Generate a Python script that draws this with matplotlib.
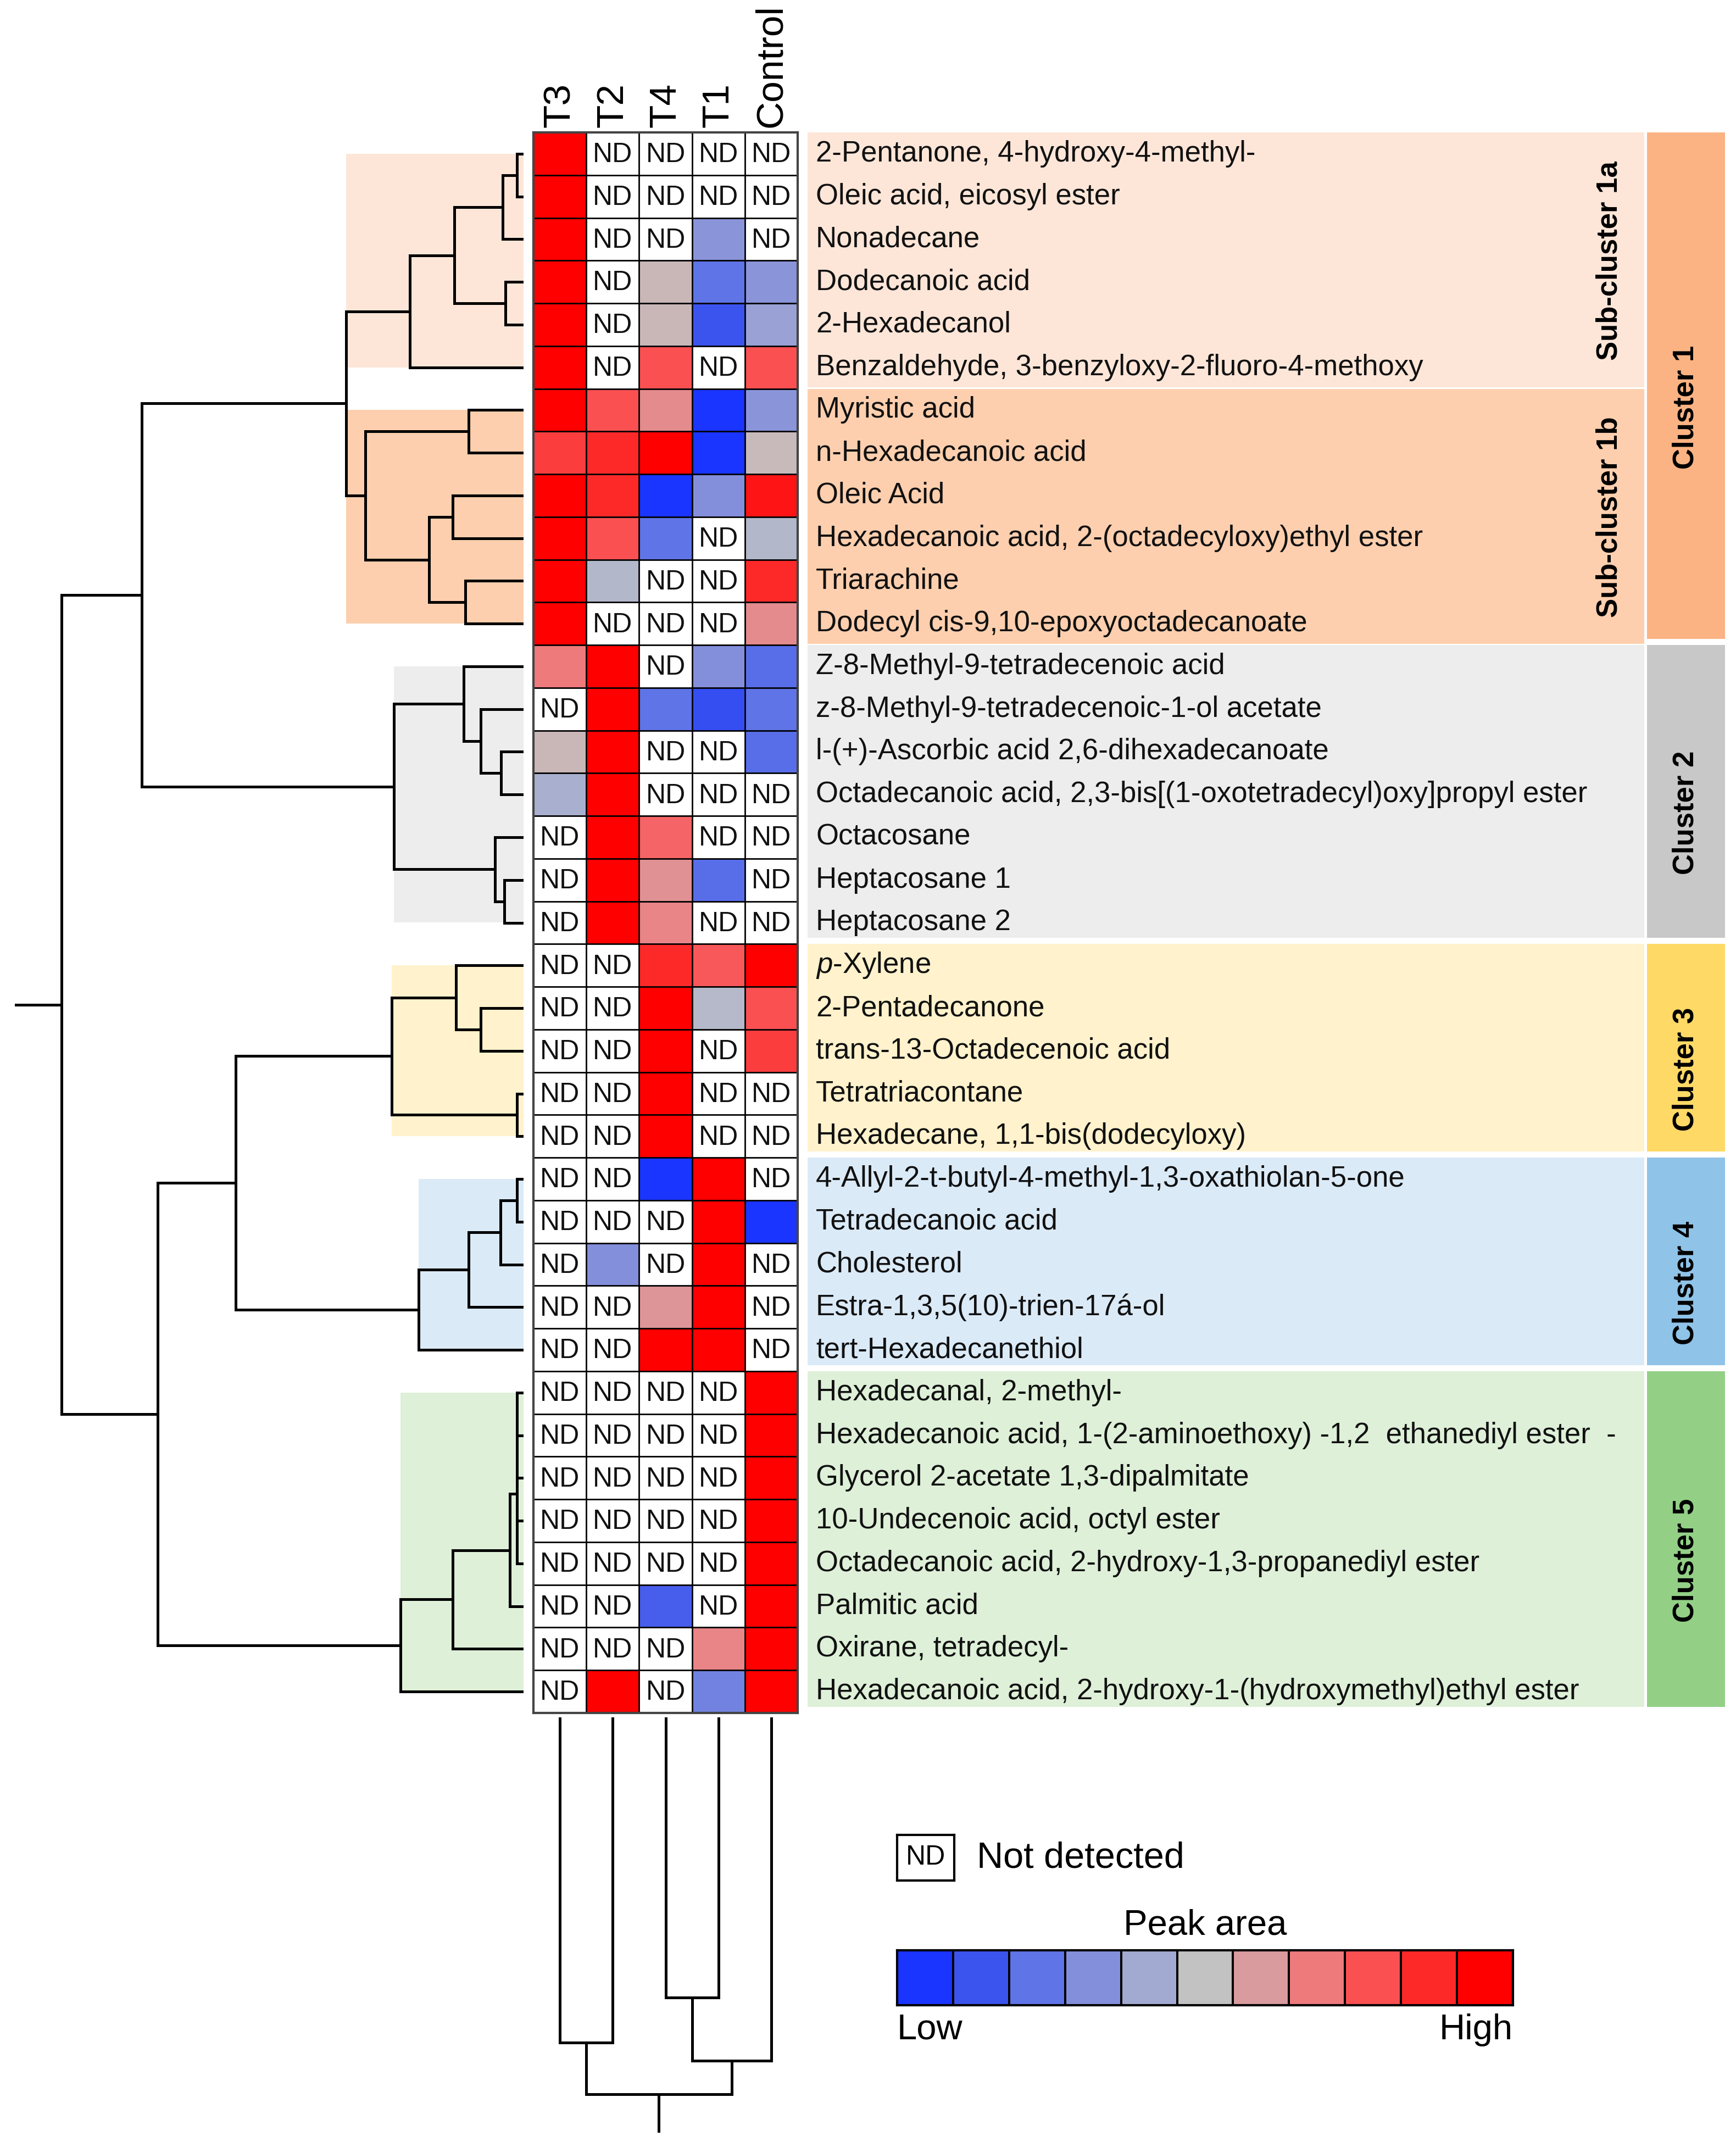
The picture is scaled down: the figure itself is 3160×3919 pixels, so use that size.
#!/usr/bin/env python3
"""
Heatmap of volatile compounds (peak area) with hierarchical clustering
of compounds (rows) and treatments (columns).
"""
import matplotlib

matplotlib.use("Agg")
import matplotlib.pyplot as plt
import numpy as np
from matplotlib.colors import LinearSegmentedColormap, Normalize
from matplotlib.patches import Rectangle

plt.rcParams["font.family"] = ["Liberation Sans", "DejaVu Sans"]
plt.rcParams["mathtext.fontset"] = "custom"
plt.rcParams["mathtext.rm"] = "Liberation Sans"
plt.rcParams["mathtext.it"] = "Liberation Sans:italic"

ND = np.nan

# ---------------------------------------------------------------- data
samples = ["T3", "T2", "T4", "T1", "Control"]

compounds = [
    "2-Pentanone, 4-hydroxy-4-methyl-",
    "Oleic acid, eicosyl ester",
    "Nonadecane",
    "Dodecanoic acid",
    "2-Hexadecanol",
    "Benzaldehyde, 3-benzyloxy-2-fluoro-4-methoxy",
    "Myristic acid",
    "n-Hexadecanoic acid",
    "Oleic Acid",
    "Hexadecanoic acid, 2-(octadecyloxy)ethyl ester",
    "Triarachine",
    "Dodecyl cis-9,10-epoxyoctadecanoate",
    "Z-8-Methyl-9-tetradecenoic acid",
    "z-8-Methyl-9-tetradecenoic-1-ol acetate",
    "l-(+)-Ascorbic acid 2,6-dihexadecanoate",
    "Octadecanoic acid, 2,3-bis[(1-oxotetradecyl)oxy]propyl ester",
    "Octacosane",
    "Heptacosane 1",
    "Heptacosane 2",
    "$\\mathit{p}$-Xylene",
    "2-Pentadecanone",
    "trans-13-Octadecenoic acid",
    "Tetratriacontane",
    "Hexadecane, 1,1-bis(dodecyloxy)",
    "4-Allyl-2-t-butyl-4-methyl-1,3-oxathiolan-5-one",
    "Tetradecanoic acid",
    "Cholesterol",
    "Estra-1,3,5(10)-trien-17á-ol",
    "tert-Hexadecanethiol",
    "Hexadecanal, 2-methyl-",
    "Hexadecanoic acid, 1-(2-aminoethoxy) -1,2  ethanediyl ester  -",
    "Glycerol 2-acetate 1,3-dipalmitate",
    "10-Undecenoic acid, octyl ester",
    "Octadecanoic acid, 2-hydroxy-1,3-propanediyl ester",
    "Palmitic acid",
    "Oxirane, tetradecyl-",
    "Hexadecanoic acid, 2-hydroxy-1-(hydroxymethyl)ethyl ester",
]

# peak-area level per treatment (0 = low ... 10 = high), ND = not detected
t3 = [10, 10, 10, 10, 10, 10, 10, 8.5, 10, 10, 10, 10,
      7, ND, 5.3, 4.2, ND, ND, ND,
      ND, ND, ND, ND, ND,
      ND, ND, ND, ND, ND,
      ND, ND, ND, ND, ND, ND, ND, ND]
t2 = [ND, ND, ND, ND, ND, ND, 8, 9, 9, 8, 4.5, ND,
      10, 10, 10, 10, 10, 10, 10,
      ND, ND, ND, ND, ND,
      ND, ND, 3, ND, ND,
      ND, ND, ND, ND, ND, ND, ND, 10]
t4 = [ND, ND, ND, 5.3, 5.3, 8, 6.5, 10, 0, 2, ND, ND,
      ND, 2, ND, ND, 7.5, 6.3, 6.7,
      9, 10, 10, 10, 10,
      0, ND, ND, 6.2, 10,
      ND, ND, ND, ND, ND, 1.3, ND, ND]
t1 = [ND, ND, 3.2, 2, 1, ND, 0, 0, 3, ND, ND, ND,
      3, 0.8, ND, ND, ND, 1.8, ND,
      7.8, 4.6, ND, ND, ND,
      10, 10, 10, 10, 10,
      ND, ND, ND, ND, ND, ND, 6.7, 2.5]
control = [ND, ND, ND, 3.2, 3.7, 8, 3.2, 5.2, 9.5, 4.5, 9, 6.5,
           1.8, 2, 1.8, ND, ND, ND, ND,
           10, 8, 8.5, ND, ND,
           ND, 0, ND, ND, ND,
           10, 10, 10, 10, 10, 10, 10, 10]

# row clustering, linkage style: (child a, child b, merge distance)
row_merges = [
    (0, 1, 0.12), (37, 2, 0.38), (3, 4, 0.33), (38, 39, 1.26), (40, 5, 2.07),
    (6, 7, 1.00), (8, 9, 1.29), (10, 11, 1.06), (43, 44, 1.72), (42, 45, 2.88),
    (41, 46, 3.23),
    (14, 15, 0.41), (13, 48, 0.78), (12, 49, 1.09), (17, 18, 0.35),
    (16, 51, 0.52), (50, 52, 2.36),
    (47, 53, 6.95),
    (20, 21, 0.78), (19, 55, 1.23), (22, 23, 0.12), (56, 57, 2.40),
    (24, 25, 0.12), (59, 26, 0.42), (60, 27, 1.00), (61, 28, 1.91),
    (58, 62, 5.24),
    (29, 30, 0.12), (64, 31, 0.12), (32, 33, 0.12), (65, 66, 0.12),
    (67, 34, 0.25), (68, 35, 1.29), (69, 36, 2.24),
    (63, 70, 6.66),
    (54, 71, 8.41),
]
row_root_stub = 9.24

# column clustering
col_merges = [(0, 1, 5.92), (2, 3, 5.10), (6, 4, 6.25), (5, 7, 6.86)]
col_root_stub = 7.53

# legend palette (low -> high)
palette = ["#1a35ff", "#3d55ee", "#5f74e6", "#8590db", "#a3aad2", "#c3c3c3",
           "#d99b9e", "#ef7b7d", "#fa5052", "#fd2a2a", "#ff0000"]

# groups: (label, first row, last row, dendrogram node, band colour)
sub_clusters = [
    ("Sub-cluster 1a", 0, 5, 47, "#fde6d8"),
    ("Sub-cluster 1b", 6, 11, 47, "#fdcfae"),
]
clusters = [
    ("Cluster 1", 0, 11, None, None, "#fbb383"),
    ("Cluster 2", 12, 18, 53, "#ededed", "#c8c8c8"),
    ("Cluster 3", 19, 23, 58, "#fff2cc", "#ffd966"),
    ("Cluster 4", 24, 28, 62, "#dbeaf7", "#8fc3e8"),
    ("Cluster 5", 29, 36, 70, "#def0d8", "#93d086"),
]

W, H = 3160, 3919


def px_rect(x0, y0, x1, y1):
    """Figure rect from pixel box (top-left origin)."""
    return [x0 / W, 1 - y1 / H, (x1 - x0) / W, (y1 - y0) / H]


def dendro_segments(merges, n_leaves):
    pos = {i: float(i) for i in range(n_leaves)}
    hgt = {i: 0.0 for i in range(n_leaves)}
    segs = []
    for k, (a, b, h) in enumerate(merges):
        segs.append(([hgt[a], h, h, hgt[b]], [pos[a], pos[a], pos[b], pos[b]]))
        pos[n_leaves + k] = (pos[a] + pos[b]) / 2
        hgt[n_leaves + k] = h
    return segs, pos, hgt


def main():
    data = np.array([t3, t2, t4, t1, control], dtype=float).T
    n_rows, n_cols = data.shape
    cmap = LinearSegmentedColormap.from_list("peak", palette)
    cmap.set_bad("white")
    norm = Normalize(vmin=0, vmax=len(palette) - 1)

    fig = plt.figure(figsize=(W / 100, H / 100), dpi=100)

    top_px, bot_px = 241, 3118
    ylim = (n_rows - 0.5, -0.5)

    # 1. Heatmap
    ax = fig.add_axes(px_rect(971, top_px, 1452, bot_px))
    ax.pcolormesh(np.arange(n_cols + 1) - 0.5, np.arange(n_rows + 1) - 0.5,
                  np.ma.masked_invalid(data), cmap=cmap, norm=norm)
    ax.hlines(np.arange(n_rows + 1) - 0.5, -0.5, n_cols - 0.5, color="black", lw=2)
    ax.vlines(np.arange(n_cols + 1) - 0.5, -0.5, n_rows - 0.5, color="black", lw=2)
    for i in range(n_rows):
        for j in range(n_cols):
            if np.isnan(data[i, j]):
                ax.text(j, i + 0.03, "ND", ha="center", va="center", fontsize=36,
                        color="#111111")
    for j, name in enumerate(samples):
        ax.text(j, -0.62, name, rotation=90, ha="center", va="bottom",
                fontsize=50, clip_on=False)
    ax.set_xlim(-0.5, n_cols - 0.5)
    ax.set_ylim(*ylim)
    ax.set_xticks([])
    ax.set_yticks([])
    for s in ax.spines.values():
        s.set_color("#444444")
        s.set_linewidth(3)

    # 2. Row dendrogram with cluster shading
    axd = fig.add_axes(px_rect(0, top_px, 953, bot_px))
    segs, pos, hgt = dendro_segments(row_merges, n_rows)
    for name, r0, r1, node, color in sub_clusters:
        axd.add_patch(Rectangle((0, r0), hgt[node], r1 - r0, color=color, lw=0, zorder=0))
    for name, r0, r1, node, band, box in clusters:
        if node is not None:
            axd.add_patch(Rectangle((0, r0), hgt[node], r1 - r0, color=band, lw=0, zorder=0))
    for xs, ys in segs:
        axd.plot(xs, ys, color="black", lw=3.6, solid_joinstyle="miter", zorder=2)
    root = len(row_merges) + n_rows - 1
    axd.plot([hgt[root], row_root_stub], [pos[root], pos[root]], color="black", lw=3.6)
    axd.set_xlim(9.53, 0)
    axd.set_ylim(*ylim)
    axd.axis("off")

    # 3. Compound labels, bands and cluster boxes
    axl = fig.add_axes(px_rect(1470, top_px, 3140, bot_px))
    axl.set_xlim(0, 1)
    axl.set_ylim(*ylim)
    axl.axis("off")
    band_right, box_left = 0.912, 0.915
    gap = 0.14
    for name, r0, r1, node, color in sub_clusters:
        axl.add_patch(Rectangle((0, r0 - 0.5), band_right, r1 - r0 + 1 - 0.03,
                                color=color, lw=0))
        axl.text(0.874, (r0 + r1) / 2, name, rotation=90, ha="center", va="center",
                 fontsize=38, fontweight="bold")
    for name, r0, r1, node, band, box in clusters:
        if band is not None:
            axl.add_patch(Rectangle((0, r0 - 0.5), band_right, r1 - r0 + 1 - gap,
                                    color=band, lw=0))
        axl.add_patch(Rectangle((box_left, r0 - 0.5), 1 - box_left, r1 - r0 + 1 - gap,
                                color=box, lw=0))
        axl.text(0.957, (r0 + r1 + 1 - gap) / 2, name, rotation=90, ha="center",
                 va="center", fontsize=38, fontweight="bold")
    for i, name in enumerate(compounds):
        axl.text(0.009, i, name, ha="left", va="center", fontsize=38, color="#111111")

    # 4. Column dendrogram
    axc = fig.add_axes(px_rect(971, 3126, 1452, H))
    csegs, cpos, chgt = dendro_segments(col_merges, n_cols)
    for hs, ps in csegs:
        axc.plot(ps, hs, color="black", lw=3.6, solid_joinstyle="miter")
    croot = len(col_merges) + n_cols - 1
    axc.plot([cpos[croot], cpos[croot]], [chgt[croot], col_root_stub], color="black", lw=3.6)
    axc.set_xlim(-0.5, n_cols - 0.5)
    axc.set_ylim(7.93, 0)
    axc.axis("off")

    # 5. Legend: ND key
    axn = fig.add_axes(px_rect(1633, 3340, 1737, 3423))
    axn.set_xticks([])
    axn.set_yticks([])
    for s in axn.spines.values():
        s.set_linewidth(3)
    axn.text(0.5, 0.5, "ND", ha="center", va="center", fontsize=36,
             transform=axn.transAxes)
    fig.text(1778 / W, 1 - 3383 / H, "Not detected", ha="left", va="center", fontsize=48)

    # 6. Legend: colour scale
    axs = fig.add_axes(px_rect(1633, 3550, 2754, 3650))
    levels = np.arange(len(palette))
    axs.pcolormesh(np.arange(len(palette) + 1) - 0.5, [0, 1], levels[None, :],
                   cmap=cmap, norm=norm, edgecolors="black", linewidth=1.5)
    axs.set_xlim(-0.5, len(palette) - 0.5)
    axs.set_ylim(0, 1)
    axs.set_xticks([])
    axs.set_yticks([])
    for s in axs.spines.values():
        s.set_linewidth(3)
    axs.text(0.5, 1.15, "Peak area", transform=axs.transAxes, ha="center",
             va="bottom", fontsize=47)
    axs.text(0.0, -0.15, "Low", transform=axs.transAxes, ha="left", va="top", fontsize=47)
    axs.text(1.0, -0.15, "High", transform=axs.transAxes, ha="right", va="top", fontsize=47)

    fig.savefig("out.png", dpi=100)


if __name__ == "__main__":
    main()
